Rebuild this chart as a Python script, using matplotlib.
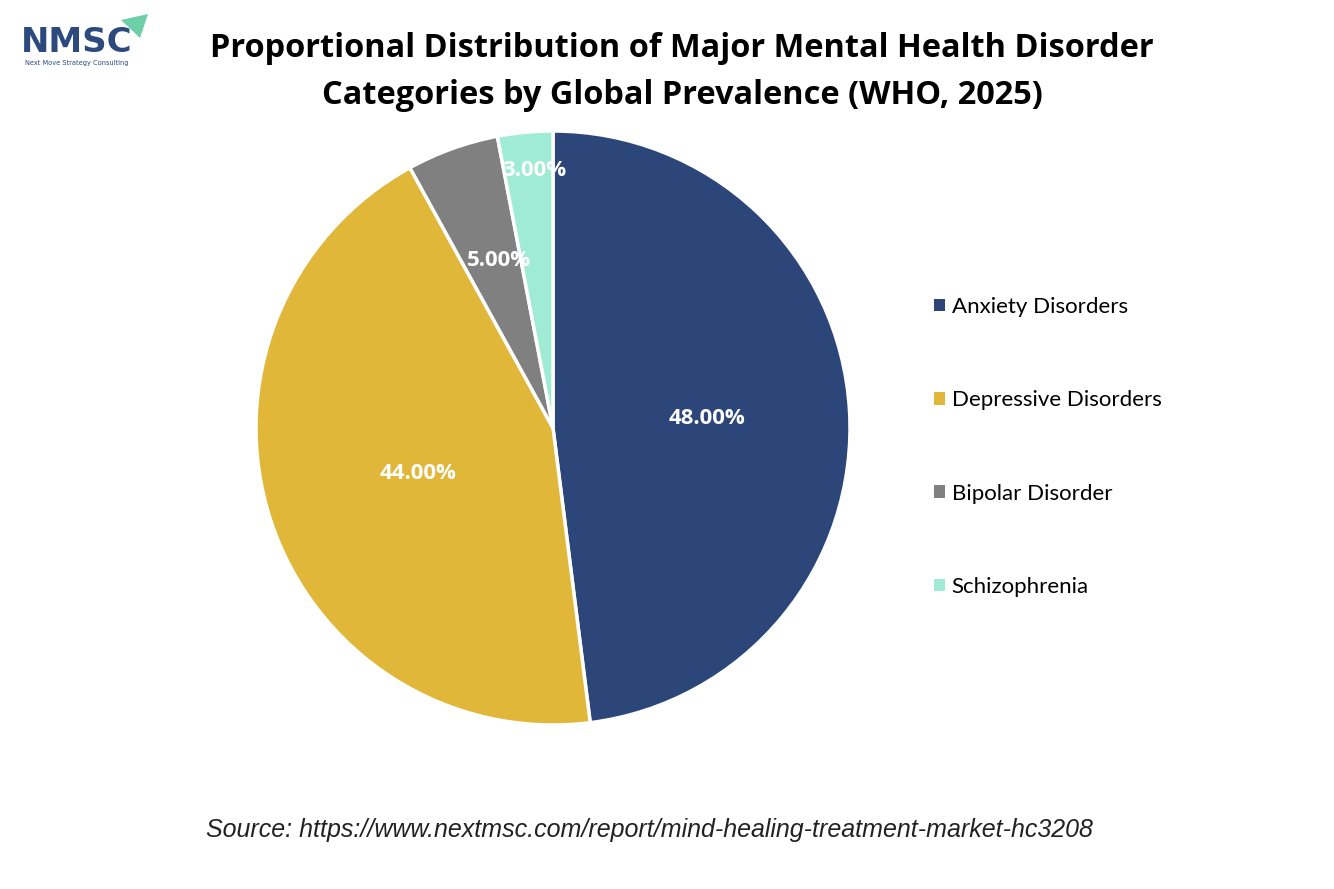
import numpy as np
import matplotlib
matplotlib.use('Agg')
import matplotlib.pyplot as plt
from matplotlib.patches import Polygon

# data
categories = ['Anxiety Disorders', 'Depressive Disorders',
              'Bipolar Disorder', 'Schizophrenia']
shares = [48.0, 44.0, 5.0, 3.0]
colors = ['#2C467A', '#E1B73A', '#808080', '#A0EBD3']
label_dist = [0.50, 0.50, 0.60, 0.87]

title = ('Proportional Distribution of Major Mental Health Disorder\n'
         'Categories by Global Prevalence (WHO, 2025)')
source = 'Source: https://www.nextmsc.com/report/mind-healing-treatment-market-hc3208'

W, H = 1334, 889
fig = plt.figure(figsize=(W / 100., H / 100.), dpi=100)
fig.patch.set_facecolor('white')

# pie axes: centre (553, 428), radius ~297 px
r = 297
ax = fig.add_axes([(553 - r) / W, 1 - (428 + r) / H, 2 * r / W, 2 * r / H])
wedges, texts, autotexts = ax.pie(
    shares, colors=colors, startangle=90, counterclock=False,
    autopct='%.2f%%', pctdistance=0.5,
    wedgeprops=dict(edgecolor='white', linewidth=2.5))
ax.set_xlim(-1, 1)
ax.set_ylim(-1, 1)
ax.set_aspect('equal')

# move the percentage labels to their own radial distance
for w, t, d in zip(wedges, autotexts, label_dist):
    ang = np.deg2rad(0.5 * (w.theta1 + w.theta2))
    t.set_position((d * np.cos(ang) + 0.02, d * np.sin(ang)))
    t.set_color('white')
    t.set_fontfamily('Open Sans')
    t.set_fontweight('bold')
    t.set_fontsize(16)

# legend
leg = fig.legend(wedges, categories, loc='upper left',
                 bbox_to_anchor=(914 / W, 1 - 277 / H),
                 frameon=False, prop=dict(family='Lato', size=16),
                 handlelength=0.5, handleheight=0.5, handletextpad=0.3,
                 labelspacing=3.3)
for h in leg.legend_handles:
    h.set_edgecolor('none')

fig.text(682 / W, 1 - 72 / H, title, ha='center', va='center',
         fontsize=23.4, fontweight='bold', family='Open Sans',
         linespacing=1.55, color='black')

fig.text(649 / W, 1 - 830 / H, source, ha='center', va='center',
         fontsize=18, style='italic', family='Liberation Sans',
         color='#222222')

# logo
fig.text(21 / W, 1 - 42 / H, 'NMSC', ha='left', va='center',
         fontsize=24.5, fontweight='bold', family='DejaVu Sans',
         color='#2C4A7E')
fig.text(25 / W, 1 - 63 / H, 'Next Move Strategy Consulting', ha='left',
         va='center', fontsize=4.8, family='DejaVu Sans', color='#2C4A7E')
logo = Polygon([(121 / W, 1 - 20 / H), (148 / W, 1 - 14 / H),
                (140 / W, 1 - 38 / H)], closed=True,
               transform=fig.transFigure, facecolor='#6DCFA8',
               edgecolor='none')
fig.patches.append(logo)

fig.savefig('out.png', dpi=100)
